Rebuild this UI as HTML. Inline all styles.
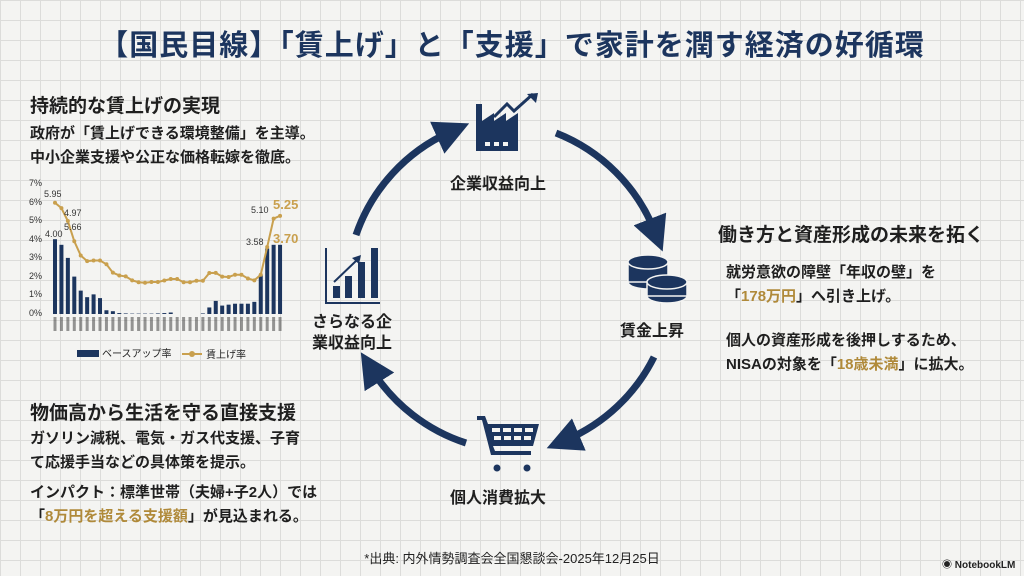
<!DOCTYPE html>
<html><head><meta charset="utf-8">
<style>
html,body{margin:0;padding:0}
body{width:1024px;height:576px;overflow:hidden;position:relative;font-family:"Liberation Sans","Noto Sans CJK JP",sans-serif;font-weight:bold;color:#1f1f1f;
background-color:#f4f4f2;
background-image:linear-gradient(#dcdcda 1px,transparent 1px),linear-gradient(90deg,#dcdcda 1px,transparent 1px);
background-size:20px 20px;}
.t{position:absolute;white-space:nowrap}
.g{color:#b08a3a}
</style></head><body>
<div class="t" style="left:0;width:1024px;text-align:center;top:22px;font-size:29px;color:#1c355e;letter-spacing:1px">【国民目線】「賃上げ」と「支援」で家計を潤す経済の好循環</div>

<div class="t" style="left:30px;top:91px;font-size:19px">持続的な賃上げの実現</div>
<div class="t" style="left:30px;top:122px;font-size:15px;line-height:24px">政府が「賃上げできる環境整備」を主導。<br>中小企業支援や公正な価格転嫁を徹底。</div>

<svg id="ch" class="t" style="left:20px;top:170px" width="280" height="200" font-family="Liberation Sans" font-size="9" font-weight="normal">
<g fill="#333" text-anchor="end">
<text x="22" y="16">7%</text><text x="22" y="35">6%</text><text x="22" y="53">5%</text><text x="22" y="72">4%</text><text x="22" y="90">3%</text><text x="22" y="109">2%</text><text x="22" y="127">1%</text><text x="22" y="146">0%</text>
</g>
<g id="bars" fill="#1c355e"></g>
<polyline id="ln" fill="none" stroke="#c9a04e" stroke-width="2"/>
<g id="dots" fill="#c9a04e"></g>
<g fill="#333" font-size="9">
<text x="24" y="27">5.95</text><text x="44" y="60">5.66</text><text x="44" y="46">4.97</text>
<text x="25" y="67">4.00</text><text x="226" y="75">3.58</text><text x="231" y="43">5.10</text>
</g>
<text x="253" y="39" fill="#c9a04e" font-size="13" font-weight="bold">5.25</text>
<text x="253" y="73" fill="#c9a04e" font-size="13" font-weight="bold">3.70</text>
<rect x="57" y="180" width="22" height="7" fill="#1c355e"/>
<text x="82" y="187" fill="#222" font-size="10" font-family="Noto Sans CJK JP">ベースアップ率</text>
<line x1="162" y1="184" x2="182" y2="184" stroke="#c9a04e" stroke-width="2"/><circle cx="172" cy="184" r="3" fill="#c9a04e"/>
<text x="186" y="188" fill="#222" font-size="10" font-family="Noto Sans CJK JP">賃上げ率</text>
</svg>
<script>
(function(){
var w=[5.95,5.66,4.97,3.89,3.13,2.83,2.86,2.86,2.66,2.21,2.06,2.01,1.8,1.7,1.67,1.71,1.71,1.79,1.87,1.87,1.7,1.7,1.78,1.78,2.19,2.2,2.0,1.98,2.1,2.1,1.9,1.8,2.1,3.58,5.10,5.25];
var b=[4.0,3.7,3.0,2.0,1.25,0.9,1.05,0.85,0.2,0.15,0.05,0.03,0.02,0.02,0.02,0.02,0.03,0.05,0.08,0,0,0,0,0.03,0.35,0.7,0.45,0.5,0.55,0.55,0.55,0.65,2.1,3.5,3.7];
var x0=35,st=6.43,y0=144,k=18.7,ns="http://www.w3.org/2000/svg",pts=[];
var bg=document.getElementById('bars'),dg=document.getElementById('dots');
b.push(3.7);
for(var i=0;i<36;i++){var x=x0+i*st;
 if(b[i]>0){var r=document.createElementNS(ns,'rect');r.setAttribute('x',x-2);r.setAttribute('width',4);r.setAttribute('y',y0-b[i]*k);r.setAttribute('height',b[i]*k);bg.appendChild(r);}
 var y=y0-w[i]*k;pts.push(x+','+y);
 var c=document.createElementNS(ns,'circle');c.setAttribute('cx',x);c.setAttribute('cy',y);c.setAttribute('r',2);dg.appendChild(c);
 var tk=document.createElementNS(ns,'rect');tk.setAttribute('x',x-1.5);tk.setAttribute('y',147);tk.setAttribute('width',3);tk.setAttribute('height',14);tk.setAttribute('fill','#444');tk.setAttribute('opacity','0.55');bg.appendChild(tk);
}
document.getElementById('ln').setAttribute('points',pts.join(' '));
})();
</script>

<div class="t" style="left:30px;top:398px;font-size:19px">物価高から生活を守る直接支援</div>
<div class="t" style="left:30px;top:427px;font-size:15px;line-height:24px">ガソリン減税、電気・ガス代支援、子育<br>て応援手当などの具体策を提示。</div>
<div class="t" style="left:30px;top:481px;font-size:15px;line-height:24px">インパクト：標準世帯（夫婦+子2人）では<br>「<span class="g">8万円を超える支援額</span>」が見込まれる。</div>

<div class="t" style="left:718px;top:220px;font-size:19px">働き方と資産形成の未来を拓く</div>
<div class="t" style="left:726px;top:261px;font-size:15px;line-height:24px">就労意欲の障壁「年収の壁」を<br>「<span class="g">178万円</span>」へ引き上げ。</div>
<div class="t" style="left:726px;top:329px;font-size:15px;line-height:24px">個人の資産形成を後押しするため、<br>NISAの対象を「<span class="g">18歳未満</span>」に拡大。</div>

<svg class="t" style="left:0;top:0" width="1024" height="576">
<defs><marker id="ah" markerWidth="5" markerHeight="5" refX="2" refY="2.5" orient="auto"><path d="M0,0 L5,2.5 L0,5 z" fill="#1c355e"/></marker></defs>
<g fill="none" stroke="#1c355e" stroke-width="7" marker-end="url(#ah)">
<path d="M556,133 A175,175 0 0 1 655,232"/>
<path d="M654,357 A175,175 0 0 1 566,440"/>
<path d="M466,443 A175,175 0 0 1 372,370"/>
<path d="M356,235 A175,175 0 0 1 450,132"/>
</g>
<!-- factory -->
<g fill="#1c355e">
<path d="M476,104 h6 v17 l12,-8 v8 l12,-8 v8 l12,-8 v38 h-42 z"/>
<rect x="485" y="142" width="5" height="4" fill="#f4f4f2"/><rect x="494" y="142" width="5" height="4" fill="#f4f4f2"/><rect x="503" y="142" width="5" height="4" fill="#f4f4f2"/>
</g>
<polyline points="494,117 507,104 514,111 533,94" fill="none" stroke="#1c355e" stroke-width="3"/>
<path d="M527,94 L538,93 L536,103 z" fill="#1c355e"/>
<!-- coins -->
<g fill="#1c355e" stroke="#f4f4f2" stroke-width="1.5">
<ellipse cx="648" cy="282" rx="20" ry="7"/><rect x="628" y="262" width="40" height="20"/><ellipse cx="648" cy="262" rx="20" ry="7"/>
<ellipse cx="667" cy="296" rx="20" ry="7"/><rect x="647" y="282" width="40" height="14"/><ellipse cx="667" cy="282" rx="20" ry="7"/>
</g>
<!-- cart -->
<g fill="#1c355e">
<path d="M477,416 h8 l3,8 h51 l-6,22 h-40 l2,5 h36 v4 h-40 l-9,-35 h-5 z"/>
<circle cx="497" cy="468" r="3.5"/><circle cx="527" cy="468" r="3.5"/>
</g>
<g fill="#f4f4f2"><rect x="492" y="428" width="8" height="4"/><rect x="503" y="428" width="8" height="4"/><rect x="514" y="428" width="8" height="4"/><rect x="525" y="428" width="8" height="4"/>
<rect x="494" y="436" width="7" height="4"/><rect x="504" y="436" width="7" height="4"/><rect x="514" y="436" width="7" height="4"/><rect x="524" y="436" width="7" height="4"/></g>
<!-- bar icon -->
<g fill="#1c355e"><rect x="325" y="248" width="2" height="56"/><rect x="325" y="302" width="55" height="2"/>
<rect x="333" y="286" width="7" height="12"/><rect x="345" y="276" width="7" height="22"/><rect x="358" y="262" width="7" height="36"/><rect x="371" y="248" width="7" height="50"/></g>
<polyline points="334,282 357,260" stroke="#1c355e" stroke-width="2"/>
<path d="M352,258 L361,255 L359,264 z" fill="#1c355e"/>
</svg>

<div class="t" style="left:450px;top:170px;font-size:16px">企業収益向上</div>
<div class="t" style="left:620px;top:317px;font-size:16px">賃金上昇</div>
<div class="t" style="left:450px;top:484px;font-size:16px">個人消費拡大</div>
<div class="t" style="left:312px;top:312px;font-size:16px;line-height:21px">さらなる企<br>業収益向上</div>

<div class="t" style="left:0;width:1024px;text-align:center;top:548px;font-size:13px;font-weight:normal;color:#222">*出典: 内外情勢調査会全国懇談会-2025年12月25日</div>
<div class="t" style="left:942px;top:556px;font-size:10px;color:#222">◉ NotebookLM</div>
</body></html>
